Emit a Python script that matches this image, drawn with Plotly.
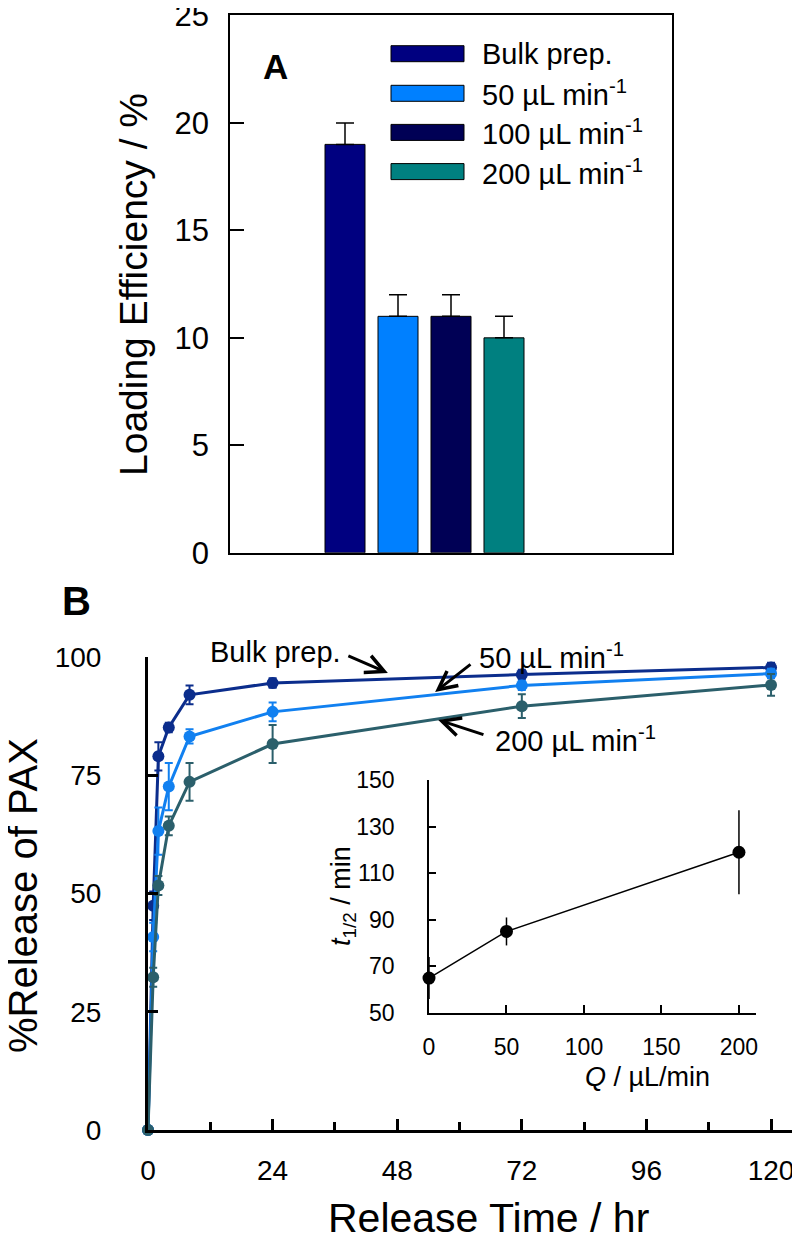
import plotly.graph_objects as go

# ---------------- Panel A data ----------------
prep_names = ["Bulk prep.", "50 µL min<sup>-1</sup>", "100 µL min<sup>-1</sup>", "200 µL min<sup>-1</sup>"]
loading_eff = [19, 11, 11, 10]
loading_err = [1, 1, 1, 1]
bar_colors = ["#000080", "#0080FF", "#000055", "#008080"]

# ---------------- Panel B data ----------------
time_hr = [0, 1, 2, 4, 8, 24, 72, 120]
rel_bulk = [0, 47.4, 79.0, 85.1, 92.0, 94.5, 96.3, 97.8]
err_bulk = [0, 3, 3, 1, 2, 1, 1, 1]
rel_50 = [0, 40.8, 63.2, 72.6, 83.2, 88.4, 94.0, 96.5]
err_50 = [0, 3, 5, 5, 1.5, 2, 1, 1]
rel_200 = [0, 32.3, 51.7, 64.3, 73.6, 81.6, 89.6, 94.1]
err_200 = [0, 2, 2, 2, 4, 4, 2.5, 2.3]
line_colors = ["#0B2D8C", "#1180F0", "#2B5F6B"]

# ---------------- Inset data ----------------
flow_q = [0, 50, 200]
t_half = [65, 85, 119]
t_half_err = [9, 6, 18]

FONT = "Liberation Sans, Arial, sans-serif"
W, H, OFF = 800, 1243, 8  # page body margin offset


def px2x(px):
    return (px - OFF) / W


def px2y(py):
    return 1 - (py - OFF) / H


fig = go.Figure()

# Panel A bars
for name, val, err, col in zip(prep_names, loading_eff, loading_err, bar_colors):
    fig.add_trace(go.Bar(
        x=[name], y=[val], width=0.755, marker=dict(color=col, line=dict(color="black", width=1)),
        error_y=dict(type="data", array=[err], arrayminus=[0], symmetric=False,
                     color="black", thickness=1.5, width=9),
        xaxis="x", yaxis="y", showlegend=False))

# Panel B lines
for ys, es, col in zip([rel_bulk, rel_50, rel_200], [err_bulk, err_50, err_200], line_colors):
    fig.add_trace(go.Scatter(
        x=time_hr, y=ys, mode="lines+markers",
        line=dict(color=col, width=3), marker=dict(color=col, size=12),
        error_y=dict(type="data", array=es, color=col, thickness=2, width=4),
        xaxis="x2", yaxis="y2", showlegend=False, cliponaxis=False))

# Inset
fig.add_trace(go.Scatter(
    x=flow_q, y=t_half, mode="lines+markers",
    line=dict(color="black", width=1.5), marker=dict(color="black", size=13),
    error_y=dict(type="data", array=t_half_err, color="black", thickness=1.5, width=0),
    xaxis="x3", yaxis="y3", showlegend=False, cliponaxis=False))

tickfont_a = dict(family=FONT, size=31, color="black")
tickfont_b = dict(family=FONT, size=28, color="black")
tickfont_i = dict(family=FONT, size=23, color="black")

A_TOP, A_BOT = 15.4, 552.8

fig.update_layout(
    width=W, height=H, margin=dict(l=0, r=0, t=0, b=0, pad=0, autoexpand=False),
    paper_bgcolor="white", plot_bgcolor="rgba(0,0,0,0)",
    barmode="overlay", showlegend=False,
    xaxis=dict(domain=[px2x(230), px2x(672)], anchor="y", type="category", range=[-2.17, 6.17],
               showline=True, linecolor="black", linewidth=1.5, mirror=True, automargin=False,
               showticklabels=False, ticks="", showgrid=False, zeroline=False),
    yaxis=dict(domain=[px2y(A_BOT), px2y(A_TOP)], anchor="x", range=[0, 25], dtick=5,
               showline=True, linecolor="black", linewidth=1.5, mirror=True, automargin=False,
               ticks="inside", ticklen=14, tickwidth=1.5, tickcolor="black", ticklabeloverflow="allow",
               tickfont=tickfont_a, ticklabelstandoff=13, showgrid=False, zeroline=False),
    xaxis2=dict(domain=[px2x(148), px2x(797)], anchor="y2", range=[0, 125], tickvals=[0, 24, 48, 72, 96, 120],
                showline=True, linecolor="black", linewidth=3, automargin=False, ticklabeloverflow="allow",
                ticks="inside", ticklen=11, tickwidth=2.5, tickcolor="black",
                minor=dict(tickvals=[12, 36, 60, 84, 108], ticks="inside", ticklen=8, tickwidth=2.5, tickcolor="black"),
                tickfont=tickfont_b, ticklabelstandoff=13, showgrid=False, zeroline=False),
    yaxis2=dict(domain=[px2y(1130), px2y(657)], anchor="x2", range=[0, 100], tickvals=[0, 25, 50, 75, 100],
                showline=True, linecolor="black", linewidth=3, automargin=False,
                ticks="inside", ticklen=10, tickwidth=2.5, tickcolor="black",
                tickfont=tickfont_b, ticklabelstandoff=38, showgrid=False, zeroline=False),
    xaxis3=dict(domain=[px2x(429), px2x(756)], anchor="y3", range=[0, 211], tickvals=[0, 50, 100, 150, 200],
                showline=True, linecolor="black", linewidth=1.5, automargin=False,
                ticks="inside", ticklen=8, tickwidth=1.5, tickcolor="black",
                tickfont=tickfont_i, ticklabelstandoff=13, showgrid=False, zeroline=False),
    yaxis3=dict(domain=[px2y(1013), px2y(780)], anchor="x3", range=[50, 150], tickvals=[50, 70, 90, 110, 130, 150],
                showline=True, linecolor="black", linewidth=1.5, automargin=False,
                ticks="inside", ticklen=7, tickwidth=1.5, tickcolor="black",
                tickfont=tickfont_i, ticklabelstandoff=28, showgrid=False, zeroline=False),
)

ann = []


def txt(text, x, y, size, xref="paper", yref="paper", angle=0, xanchor="center"):
    return dict(text=text, x=x, y=y, xref=xref, yref=yref, textangle=angle, showarrow=False,
                xanchor=xanchor, yanchor="middle", font=dict(family=FONT, size=size, color="black"))


# Titles
ann.append(txt("Loading Efficiency / %", px2x(133), px2y(285), 39, angle=-90))
ann.append(txt("%Release of PAX", px2x(23), px2y(896), 40, angle=-90))
ann.append(txt("Release Time / hr", px2x(489), px2y(1218), 41))
ann.append(txt("<i>t</i><sub>1/2</sub> / min", px2x(343), px2y(896), 27, angle=-90))
ann.append(txt("<i>Q</i> / µL/min", px2x(647), px2y(1077), 27))
# Panel labels
ann.append(txt("<b>A</b>", px2x(275), px2y(67), 35))
ann.append(txt("<b>B</b>", px2x(76), px2y(601), 40))

# Custom legend for panel A
legend_rows_px = [53.7, 93.3, 132.4, 171.6]
shapes = []
for name, col, ypx in zip(prep_names, bar_colors, legend_rows_px):
    shapes.append(dict(type="rect", xref="paper", yref="paper",
                       x0=px2x(391), x1=px2x(464), y0=px2y(ypx + 8), y1=px2y(ypx - 8),
                       fillcolor=col, line=dict(color="black", width=1)))
    ann.append(txt(name, px2x(480), px2y(ypx), 29, xanchor="left"))

# Curve labels (paper coordinates, they sit above the axis range) and arrows (data coordinates)
ann.append(txt("Bulk prep.", px2x(275), px2y(652), 29))
ann.append(txt("50 µL min<sup>-1</sup>", px2x(477), px2y(656), 29, xanchor="left"))
ann.append(txt("200 µL min<sup>-1</sup>", px2x(493), px2y(739), 29, xanchor="left"))
for (tx, ty), (hx, hy) in [((38.3, 100.4), (46.2, 96.6)), ((62.4, 98.7), (55.3, 92.6)), ((64.9, 83.5), (55.9, 86.7))]:
    ann.append(dict(text="", x=hx, y=hy, ax=tx, ay=ty, xref="x2", yref="y2", axref="x2", ayref="y2",
                    showarrow=True, arrowhead=5, arrowsize=1.2, arrowwidth=3, arrowcolor="black"))

fig.update_layout(annotations=ann, shapes=shapes)
fig.write_html("out.html")
